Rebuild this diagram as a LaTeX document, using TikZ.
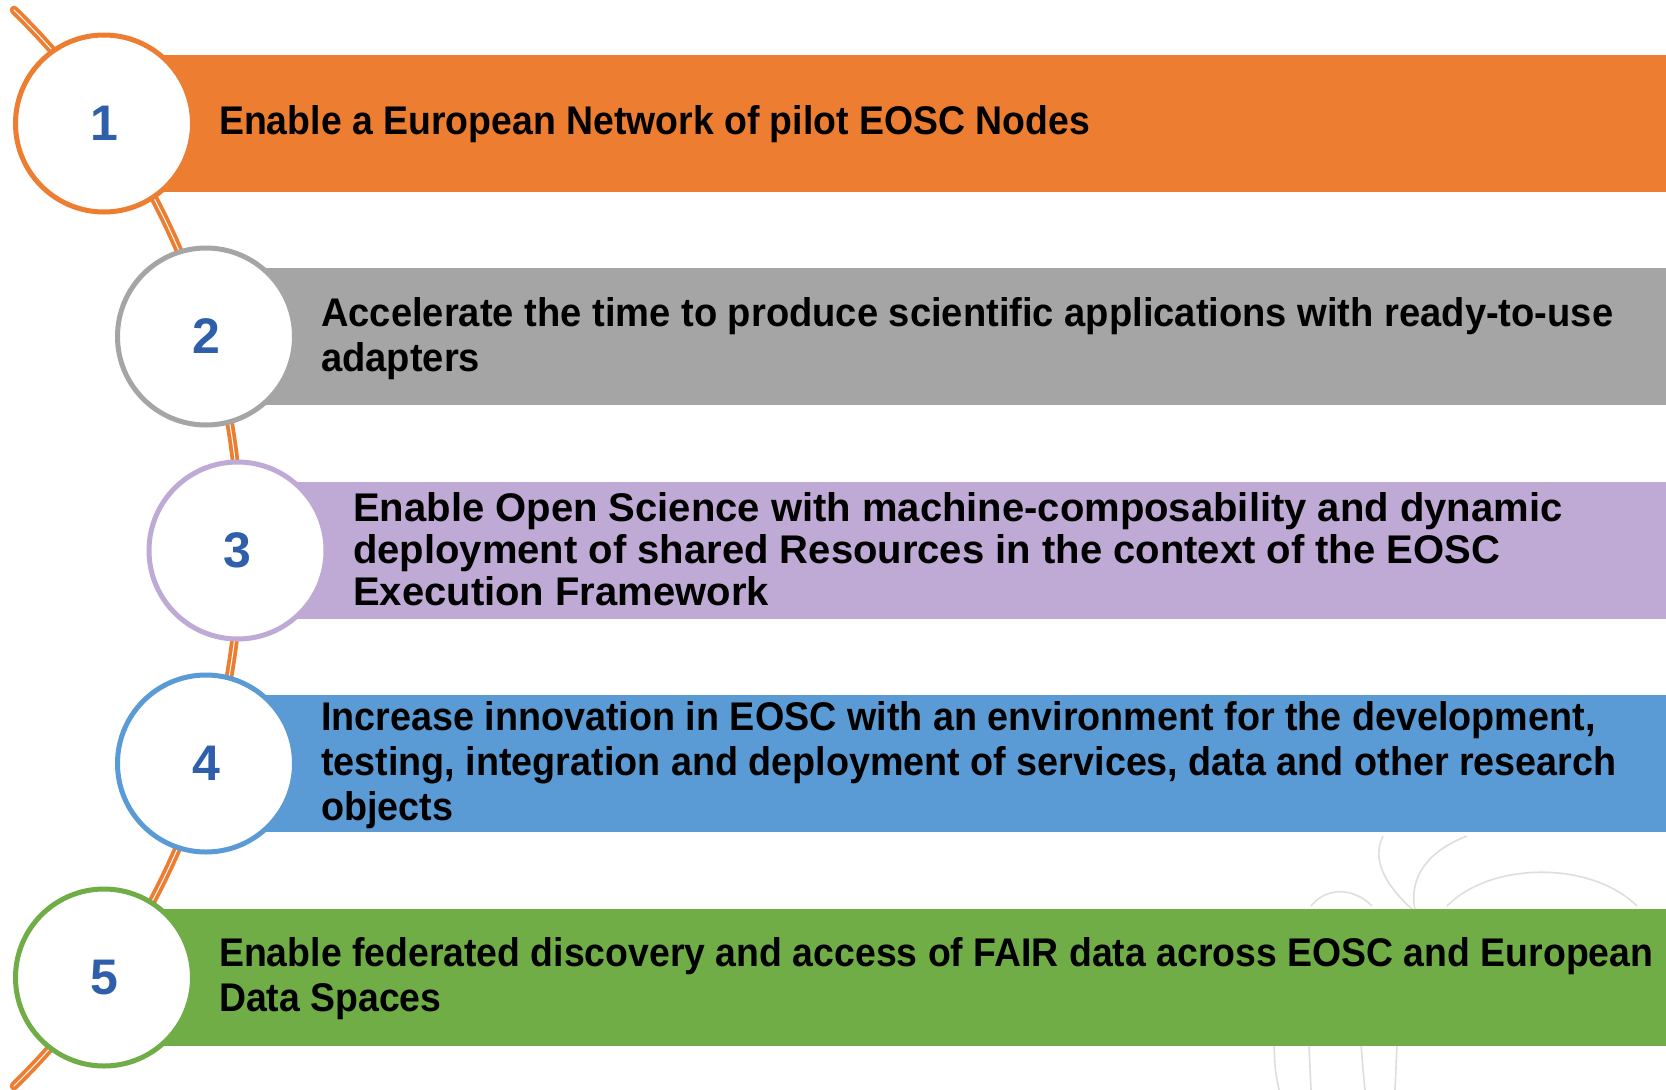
\documentclass[tikz,border=0pt]{standalone}
\usepackage{fontspec}
\setmainfont{Liberation Sans}
\newfontfamily\rowfontnarrow[FakeStretch=0.935]{Liberation Sans}
\newfontfamily\rowfont[FakeStretch=0.943]{Liberation Sans}
\newfontfamily\rowfontwide[FakeStretch=0.953]{Liberation Sans}
\definecolor{cOrange}{HTML}{ED7D31}
\definecolor{cGray}{HTML}{A5A5A5}
\definecolor{cPurple}{HTML}{BFA9D5}
\definecolor{cBlue}{HTML}{5B9BD5}
\definecolor{cGreen}{HTML}{70AD47}
\definecolor{cNum}{HTML}{2F5EAA}
\definecolor{cMark}{HTML}{DEDEDE}
\begin{document}
\begin{tikzpicture}[x=1pt,y=-1pt,
  numcircle/.style={circle, fill=white, line width=5pt, minimum size=177pt, inner sep=0pt,
    text=cNum, font=\bfseries\fontsize{50}{50}\selectfont},
  bartext/.style={anchor=west, inner sep=0pt, align=left,
    font=\rowfont\bfseries\fontsize{40}{45}\selectfont},
  bartextnarrow/.style={bartext, font=\rowfontnarrow\bfseries\fontsize{40}{45}\selectfont},
  bartextwide/.style={bartext, font=\rowfontwide\bfseries\fontsize{40}{45}\selectfont},
  bartextarial/.style={anchor=west, inner sep=0pt, align=left,
    font=\bfseries\fontsize{40}{42}\selectfont},
  faintstroke/.style={draw=cMark, line width=1.6pt},
  timeline/.style={draw=cOrange, double=white, double distance=1pt, line width=3.8pt, line cap=round}]
\useasboundingbox (0,0) rectangle (1666,1090);
\fill[white] (0,0) rectangle (1666,1090);

% faint watermark strokes
\draw[faintstroke] (1383,836) .. controls (1371,860) and (1386,886) .. (1413,910);
\draw[faintstroke] (1467,836) .. controls (1430,850) and (1408,876) .. (1415,910);
\draw[faintstroke] (1447,906) .. controls (1490,862) and (1590,860) .. (1637,906);
\draw[faintstroke] (1311,906) .. controls (1325,888) and (1352,886) .. (1372,906);
\draw[faintstroke] (1274,1044) .. controls (1275,1070) .. (1279,1090);
\draw[faintstroke] (1309,1044) -- (1311,1090);
\draw[faintstroke] (1361,1044) .. controls (1363,1070) .. (1365,1090);
\draw[faintstroke] (1397,1044) -- (1395,1090);

% coloured bands
\fill[cOrange] (103.5,55) rectangle (1666,192);
\fill[cGray]   (205.5,268) rectangle (1666,405);
\fill[cPurple] (237,482) rectangle (1666,619);
\fill[cBlue]   (205.5,695) rectangle (1666,832);
\fill[cGreen]  (103.5,909) rectangle (1666,1046);

% timeline arc
\coordinate (arcTop) at (14,10);
\draw[timeline] (arcTop) arc[start angle=-45.6, end angle=45.6, radius=753];

% numbered circles
\node[numcircle, draw=cOrange] (n1) at (104,123.5) {1};
\node[numcircle, draw=cGray]   (n2) at (206,336.5) {2};
\node[numcircle, draw=cPurple] (n3) at (237.5,550.5) {3};
\node[numcircle, draw=cBlue]   (n4) at (206,763.5) {4};
\node[numcircle, draw=cGreen]  (n5) at (104,977.5) {5};

% labels
\node[bartextnarrow] (t1) at (219,124) {Enable a European Network of pilot EOSC Nodes};
\node[bartextwide] (t2) at (321,339) {Accelerate the time to produce scientific applications with ready-to-use\\adapters};
\node[bartextarial] (t3) at (353,549) {Enable Open Science with machine-composability and dynamic\\deployment of shared Resources in the context of the EOSC\\Execution Framework};
\node[bartext] (t4) at (321,765) {Increase innovation in EOSC with an environment for the development,\\testing, integration and deployment of services, data and other research\\objects};
\node[bartextnarrow] (t5) at (219,979) {Enable federated discovery and access of FAIR data across EOSC and European\\Data Spaces};
\end{tikzpicture}
\end{document}
